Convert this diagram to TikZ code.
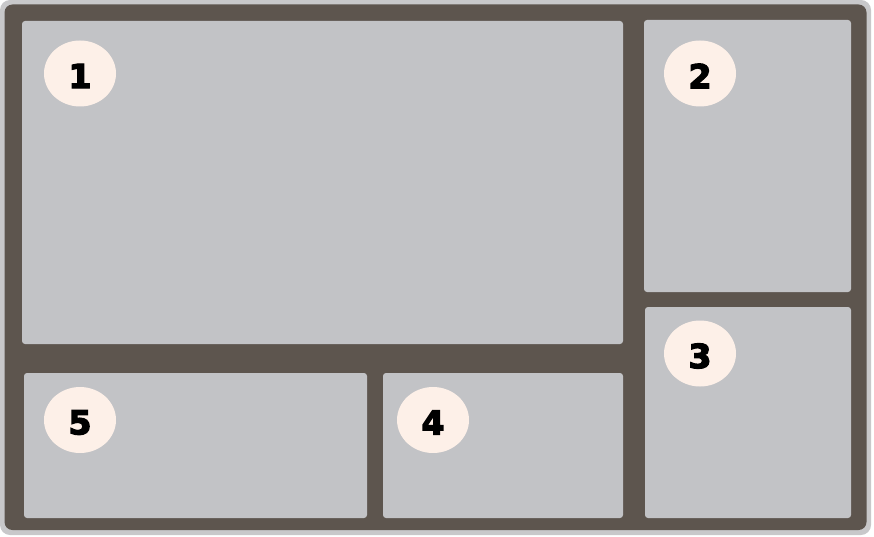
\documentclass[tikz,border=0pt]{standalone}
\usepackage{fontspec}
\setmainfont{DejaVu Sans}
\newfontfamily\badgefont[FakeBold=4]{DejaVu Sans Bold}
\usetikzlibrary{shapes.geometric}
\definecolor{frameDark}{HTML}{5D554E}
\definecolor{frameEdge}{HTML}{C8C8CA}
\definecolor{panelGray}{HTML}{C2C3C6}
\definecolor{badgeFill}{HTML}{FDF0E8}
\begin{document}
\begin{tikzpicture}[x=1pt,y=-1pt,
  panel/.style={fill=panelGray,rounded corners=3pt},
  badge/.style={ellipse,fill=badgeFill,minimum width=72pt,minimum height=66pt,inner sep=0pt},
  badgenum/.style={inner sep=0pt,font=\badgefont\fontsize{33}{33}\selectfont}]
\useasboundingbox (0,0) rectangle (874,537);
\fill[frameEdge,rounded corners=10pt] (0,0) rectangle (871,535);
\fill[frameDark,rounded corners=8pt] (4.5,4.5) rectangle (866.5,530);
\fill[panel] (22,21) rectangle (623,344);
\fill[panel] (644,20) rectangle (851,292);
\fill[panel] (645,307) rectangle (851,518);
\fill[panel] (383,373) rectangle (623,518);
\fill[panel] (24,373) rectangle (367,518);
\node[badge] (b1) at (80,73.5) {};
\node[badge] (b2) at (700,73.5) {};
\node[badge] (b3) at (700,353.5) {};
\node[badge] (b4) at (433,420) {};
\node[badge] (b5) at (80,420) {};
\node[badgenum] (n1) at ([yshift=-2.5pt]b1.center) {1};
\node[badgenum] (n2) at ([yshift=-2.5pt]b2.center) {2};
\node[badgenum] (n3) at ([yshift=-2.5pt]b3.center) {3};
\node[badgenum] (n4) at ([yshift=-2.5pt]b4.center) {4};
\node[badgenum] (n5) at ([yshift=-2.5pt]b5.center) {5};
\end{tikzpicture}
\end{document}
